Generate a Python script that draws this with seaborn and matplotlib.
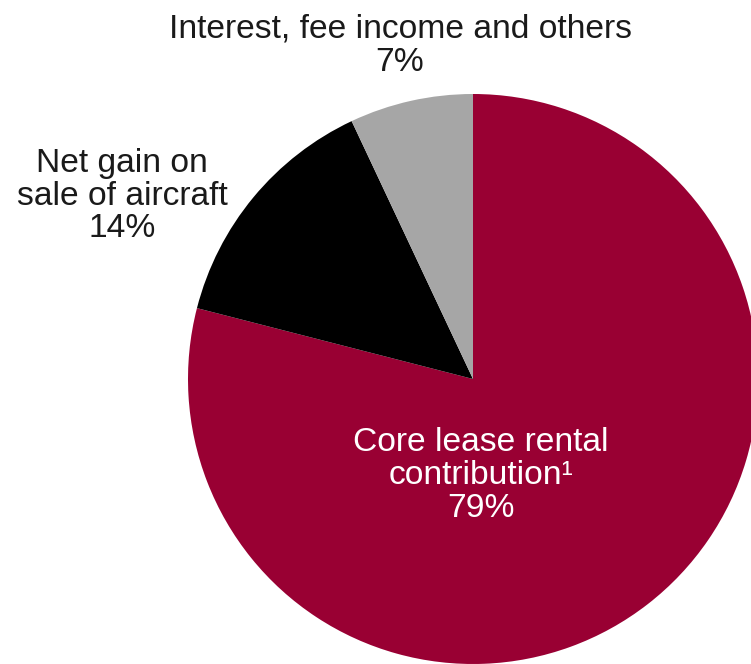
import matplotlib
matplotlib.use("Agg")
import matplotlib.pyplot as plt
import seaborn as sns

categories = ["Core lease rental\ncontribution\u00b9", "Net gain on\nsale of aircraft", "Interest, fee income and others"]
values = [79, 14, 7]
colors = ["#990033", "#000000", "#A6A6A6"]
label_colors = ["white", "#1a1a1a", "#1a1a1a"]
label_pos = [(0.028, -0.340), (-1.232, 0.642), (-0.256, 1.170)]

sns.set_theme(style="white")
plt.rcParams["font.family"] = ["Liberation Sans", "DejaVu Sans"]

fig = plt.figure(figsize=(7.51, 6.64), dpi=100)
ax = fig.add_axes([0, 0, 1, 1])
ax.pie(values, colors=colors, startangle=90, counterclock=False, radius=1.0,
       wedgeprops=dict(linewidth=0, edgecolor="none"))
ax.set_xlim(-473 / 285, (751 - 473) / 285)
ax.set_ylim(-(664 - 379) / 285, 379 / 285)
ax.set_aspect("equal")
ax.axis("off")

for cat, val, (x, y), c in zip(categories, values, label_pos, label_colors):
    ax.text(x, y, f"{cat}\n{val}%", ha="center", va="center", color=c,
            fontsize=24.2, linespacing=1.08)

fig.savefig("out.png", dpi=100, facecolor="white")
